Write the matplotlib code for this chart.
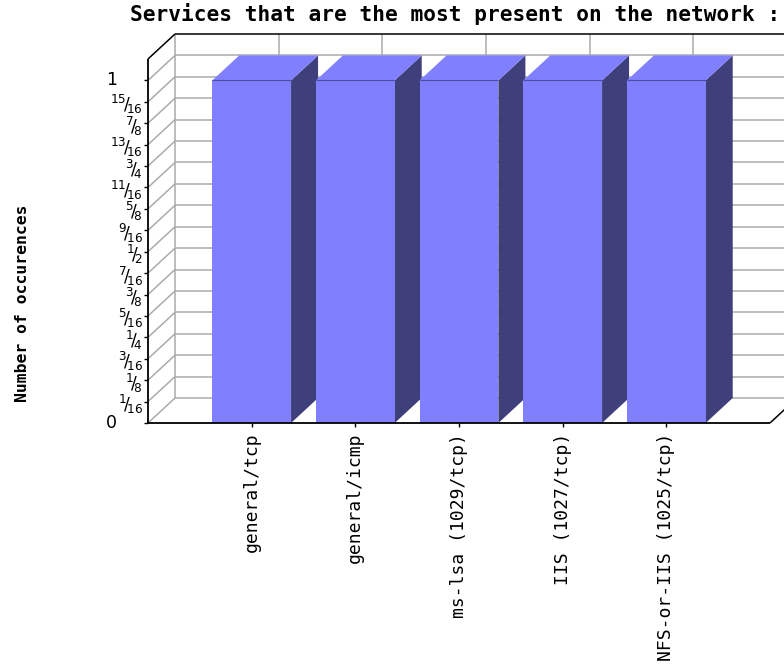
import matplotlib
matplotlib.use("Agg")
import matplotlib.pyplot as plt
from matplotlib.patches import Polygon
from fractions import Fraction

# ---- data -------------------------------------------------------------
services = [
    "general/tcp",
    "general/icmp",
    "ms-lsa (1029/tcp)",
    "IIS (1027/tcp)",
    "NFS-or-IIS (1025/tcp)",
]
occurrences = [1, 1, 1, 1, 1]
y_tick_labels = ["0", "1/16", "1/8", "3/16", "1/4", "5/16", "3/8", "7/16",
                 "1/2", "9/16", "5/8", "11/16", "3/4", "13/16", "7/8",
                 "15/16", "1"]
y_top = Fraction(17, 16)

title = "Services that are the most present on the network :"
y_label = "Number of occurences"

# ---- style ------------------------------------------------------------
W, H, DPI = 784, 671, 100
FACE = "#8080ff"
SIDE = "#3f3f7c"
EDGE = "#4c4ca0"
GRID = "#ababab"
MONO = "DejaVu Sans Mono"
BAR_W = 0.76
DEPTH_PX = (27, 25)   # 3-D depth offset of the back wall, in pixels

fig = plt.figure(figsize=(W / DPI, H / DPI), dpi=DPI)
fig.patch.set_facecolor("white")
ax = fig.add_axes([148 / W, 1 - 423 / H, 622 / W, 364 / H])
xmax = len(services) + 1
ymax = float(y_top)
ax.set_xlim(0, xmax)
ax.set_ylim(0, ymax)
ax.patch.set_visible(False)
for s in ax.spines.values():
    s.set_visible(False)

# depth offset expressed in data units
bb = ax.get_position()
ddx = DEPTH_PX[0] * xmax / (bb.width * W)
ddy = DEPTH_PX[1] * ymax / (bb.height * H)

y_ticks = [float(Fraction(t)) for t in y_tick_labels]


def line(xs, ys, color, lw, z):
    ax.plot(xs, ys, color=color, lw=lw, zorder=z, clip_on=False,
            solid_capstyle="butt")


# back wall and left wall grid
for v in y_ticks:
    line([ddx, xmax + ddx], [v + ddy, v + ddy], GRID, 1.1, 1)
    line([0, ddx], [v, v + ddy], GRID, 1.1, 1)
line([ddx, ddx], [ddy, ymax + ddy], GRID, 1.1, 1)
for i in range(1, len(services) + 1):
    line([i + ddx, i + ddx], [ddy, ymax + ddy], GRID, 1.1, 1)

# outer frame
line([0, ddx], [ymax, ymax + ddy], "black", 1.1, 6)
line([ddx, xmax + ddx], [ymax + ddy, ymax + ddy], "black", 1.1, 6)
line([xmax, xmax + ddx], [0, ddy], "black", 1.1, 6)

# bars: side and top faces, then the front faces on top
xs = list(range(1, len(services) + 1))
for xc, v in zip(xs, occurrences):
    x0, x1 = xc - BAR_W / 2, xc + BAR_W / 2
    ax.add_patch(Polygon([(x1, 0), (x1 + ddx, ddy), (x1 + ddx, v + ddy), (x1, v)],
                         closed=True, fc=SIDE, ec="none", zorder=2, clip_on=False))
    ax.add_patch(Polygon([(x0, v), (x1, v), (x1 + ddx, v + ddy), (x0 + ddx, v + ddy)],
                         closed=True, fc=FACE, ec="none", zorder=3, clip_on=False))
ax.bar(xs, occurrences, width=BAR_W, color=FACE, edgecolor="none", zorder=4,
       clip_on=False)
ax.hlines(occurrences, [x - BAR_W / 2 for x in xs], [x + BAR_W / 2 for x in xs],
          colors=EDGE, lw=0.8, zorder=5)

# front axes lines
line([0, 0], [0, ymax], "black", 1.3, 7)
line([0, xmax], [0, 0], "black", 1.3, 7)

# x axis ticks and labels
ax.set_xticks(xs)
ax.set_xticklabels(services, rotation=90, fontfamily=MONO, fontsize=13,
                   va="top", ha="center")
ax.tick_params(axis="x", length=3, width=1, pad=4, direction="out")

# y axis ticks with stacked fraction labels
ax.set_yticks(y_ticks)
ax.set_yticklabels([""] * len(y_ticks))
ax.tick_params(axis="y", length=3, width=1, direction="out")
for lab, v in zip(y_tick_labels, y_ticks):
    if "/" in lab:
        n, d = lab.split("/")
        txt = r"${}^{%s}\!/\!{}_{%s}$" % (n, d)
        ax.annotate(txt, xy=(0, v), xycoords=("axes fraction", "data"),
                    xytext=(-5, -3), textcoords="offset pixels",
                    ha="right", va="center", fontsize=12.3)
    else:
        ax.annotate(lab, xy=(0, v), xycoords=("axes fraction", "data"),
                    xytext=(-31, 0), textcoords="offset pixels",
                    ha="right", va="center", fontsize=12.5)

fig.text(130 / W, 1 - 21 / H, title, ha="left", va="baseline",
         fontfamily=MONO, fontweight="bold", fontsize=15.2)
fig.text(23 / W, 1 - 303 / H, y_label, rotation=90, ha="center", va="center",
         fontfamily=MONO, fontweight="bold", fontsize=11.8)

fig.savefig("out.png", dpi=DPI, facecolor="white")
